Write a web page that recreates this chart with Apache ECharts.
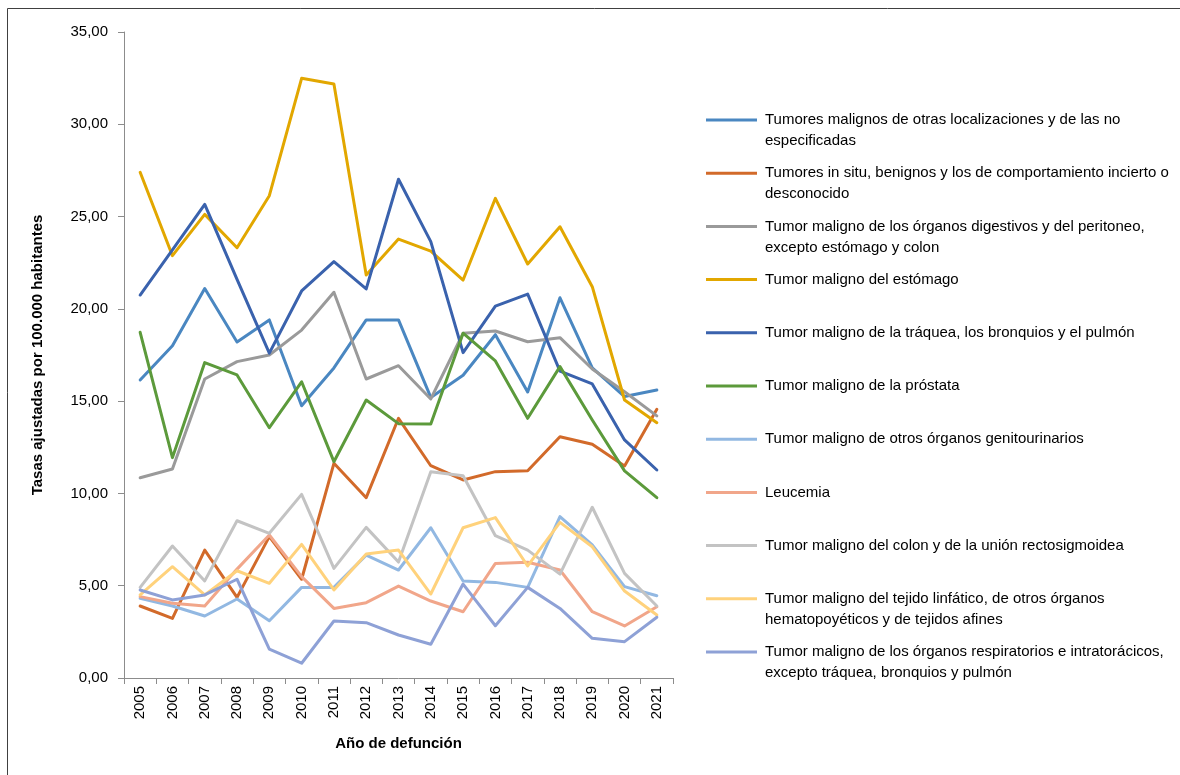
<!DOCTYPE html>
<html>
<head>
<meta charset="utf-8">
<script src="https://cdn.jsdelivr.net/npm/echarts@6/dist/echarts.min.js"></script>
<style>
  html, body { margin: 0; padding: 0; background: #fff; }
  #chart { width: 1180px; height: 775px; }
</style>
</head>
<body>
<div id="chart"></div>
<script>
// Años de defunción (eje de categorías)
const years = ['2005', '2006', '2007', '2008', '2009', '2010', '2011', '2012', '2013',
  '2014', '2015', '2016', '2017', '2018', '2019', '2020', '2021'];

// Marcas del eje de tasas
const yTicks = { min: 0, max: 35, step: 5 };

// Nombres de las causas
const seriesNames = [
  'Tumores malignos de otras localizaciones y de las no especificadas',
  'Tumores in situ, benignos y los de comportamiento incierto o desconocido',
  'Tumor maligno de los órganos digestivos y del peritoneo, excepto estómago y colon',
  'Tumor maligno del estómago',
  'Tumor maligno de la tráquea, los bronquios y el pulmón',
  'Tumor maligno de la próstata',
  'Tumor maligno de otros órganos genitourinarios',
  'Leucemia',
  'Tumor maligno del colon y de la unión rectosigmoidea',
  'Tumor maligno del tejido linfático, de otros órganos hematopoyéticos y de tejidos afines',
  'Tumor maligno de los órganos respiratorios e intratorácicos, excepto tráquea, bronquios y pulmón'
];

// Texto de la leyenda, en líneas
const legendLines = [
  ['Tumores malignos de otras localizaciones y de las no', 'especificadas'],
  ['Tumores in situ, benignos y los de comportamiento incierto o', 'desconocido'],
  ['Tumor maligno de los órganos digestivos y del peritoneo,', 'excepto estómago y colon'],
  ['Tumor maligno del estómago'],
  ['Tumor maligno de la tráquea, los bronquios y el pulmón'],
  ['Tumor maligno de la próstata'],
  ['Tumor maligno de otros órganos genitourinarios'],
  ['Leucemia'],
  ['Tumor maligno del colon y de la unión rectosigmoidea'],
  ['Tumor maligno del tejido linfático, de otros órganos', 'hematopoyéticos y de tejidos afines'],
  ['Tumor maligno de los órganos respiratorios e intratorácicos,', 'excepto tráquea, bronquios y pulmón']
];

// Tasas ajustadas por 100.000 habitantes
const otrasLocalizaciones = [16.15, 18.0, 21.1, 18.2, 19.4, 14.75, 16.8, 19.4, 19.4, 15.2, 16.4, 18.6, 15.5, 20.6, 16.8, 15.25, 15.6];
const inSituBenignos = [3.9, 3.23, 6.93, 4.37, 7.66, 5.35, 11.63, 9.77, 14.07, 11.5, 10.73, 11.18, 11.23, 13.07, 12.66, 11.49, 14.56];
const digestivos = [10.85, 11.32, 16.2, 17.14, 17.5, 18.85, 20.9, 16.2, 16.92, 15.12, 18.68, 18.8, 18.22, 18.44, 16.74, 15.51, 14.2];
const estomago = [27.4, 22.88, 25.12, 23.31, 26.13, 32.49, 32.18, 21.83, 23.78, 23.13, 21.56, 25.99, 22.43, 24.45, 21.2, 15.06, 13.83];
const traqueaPulmon = [20.75, 23.2, 25.66, 21.6, 17.6, 20.97, 22.56, 21.08, 27.02, 23.64, 17.63, 20.15, 20.8, 16.63, 15.93, 12.9, 11.27];
const prostata = [18.73, 11.94, 17.09, 16.42, 13.56, 16.05, 11.72, 15.06, 13.78, 13.76, 18.68, 17.18, 14.07, 16.87, 13.98, 11.22, 9.77];
const genitourinarios = [4.32, 3.9, 3.36, 4.28, 3.1, 4.91, 4.91, 6.66, 5.85, 8.14, 5.26, 5.18, 4.91, 8.74, 7.21, 4.95, 4.46];
const leucemia = [4.41, 4.05, 3.9, 5.9, 7.75, 5.49, 3.77, 4.08, 4.98, 4.17, 3.59, 6.21, 6.27, 5.85, 3.59, 2.82, 3.86];
const colon = [4.91, 7.15, 5.26, 8.52, 7.84, 9.95, 5.94, 8.16, 6.28, 11.18, 10.96, 7.71, 6.93, 5.63, 9.25, 5.67, 3.9];
const linfatico = [4.5, 6.03, 4.5, 5.81, 5.13, 7.24, 4.77, 6.72, 6.93, 4.55, 8.14, 8.69, 6.07, 8.43, 7.11, 4.71, 3.41];
const respiratorios = [4.77, 4.23, 4.5, 5.35, 1.57, 0.8, 3.09, 3.0, 2.33, 1.83, 5.09, 2.83, 4.91, 3.77, 2.15, 1.97, 3.29];

const seriesValues = [otrasLocalizaciones, inSituBenignos, digestivos, estomago, traqueaPulmon,
  prostata, genitourinarios, leucemia, colon, linfatico, respiratorios];

const palette = ['#4a87c1', '#d26a2a', '#9a9a9a', '#e2a700', '#3a62ad', '#5c9a3b',
  '#92b8e2', '#f1a68a', '#c3c3c3', '#ffd27c', '#8ea1d6'];

const FONT = '"Liberation Sans", Arial, sans-serif';
const AXIS_COLOR = '#8c8c8c';
const LINE_H = 21;

// Una leyenda por serie; en los textos de dos líneas se antepone una línea
// vacía para que el trazo quede a la altura de la primera línea
const legends = seriesNames.map((name, i) => {
  const lines = legendLines[i];
  const twoLines = lines.length > 1;
  const iconY = 120 + 53.2 * i;
  return {
    data: [name],
    left: 706,
    top: twoLines ? iconY - 1.5 * LINE_H : iconY - 0.5 * LINE_H,
    orient: 'vertical',
    icon: 'rect',
    itemWidth: 51,
    itemHeight: 3,
    padding: 0,
    selectedMode: false,
    formatter: () => (twoLines ? '\n' : '') + lines.join('\n'),
    textStyle: {
      fontFamily: FONT,
      fontSize: 15,
      color: '#000',
      lineHeight: LINE_H,
      padding: [0, 0, 0, 3]
    }
  };
});

const chart = echarts.init(document.getElementById('chart'), null, { renderer: 'canvas' });

chart.setOption({
  animation: false,
  backgroundColor: '#fff',
  color: palette,
  textStyle: { fontFamily: FONT },
  grid: { left: 124, right: 507, top: 32, bottom: 97, containLabel: false },
  legend: legends,
  xAxis: {
    type: 'category',
    data: years,
    boundaryGap: true,
    name: 'Año de defunción',
    nameLocation: 'middle',
    nameGap: 58,
    nameTextStyle: { fontFamily: FONT, fontSize: 15, fontWeight: 'bold', color: '#000' },
    axisLine: { lineStyle: { color: AXIS_COLOR, width: 1 } },
    axisTick: { show: true, length: 6, interval: 0, lineStyle: { color: AXIS_COLOR } },
    axisLabel: { interval: 0, rotate: 90, margin: 8, fontFamily: FONT, fontSize: 15, color: '#000' },
    splitLine: { show: false }
  },
  yAxis: {
    type: 'value',
    min: yTicks.min,
    max: yTicks.max,
    interval: yTicks.step,
    name: 'Tasas ajustadas por 100.000 habitantes',
    nameLocation: 'middle',
    nameGap: 79,
    nameTextStyle: { fontFamily: FONT, fontSize: 15, fontWeight: 'bold', color: '#000' },
    axisLine: { show: true, lineStyle: { color: AXIS_COLOR, width: 1 } },
    axisTick: { show: true, length: 6, lineStyle: { color: AXIS_COLOR } },
    axisLabel: {
      margin: 16,
      fontFamily: FONT,
      fontSize: 15,
      color: '#000',
      formatter: v => v.toFixed(2).replace('.', ',')
    },
    splitLine: { show: false }
  },
  graphic: [{
    type: 'rect',
    shape: { x: 7.5, y: 8.5, width: 1300, height: 900 },
    style: { fill: 'none', stroke: '#404040', lineWidth: 1 },
    silent: true
  }],
  series: seriesNames.map((name, i) => ({
    name: name,
    type: 'line',
    data: seriesValues[i],
    symbol: 'none',
    smooth: false,
    lineStyle: { width: 3, color: palette[i], cap: 'round', join: 'round' },
    itemStyle: { color: palette[i] },
    emphasis: { disabled: true }
  }))
});
</script>
</body>
</html>
